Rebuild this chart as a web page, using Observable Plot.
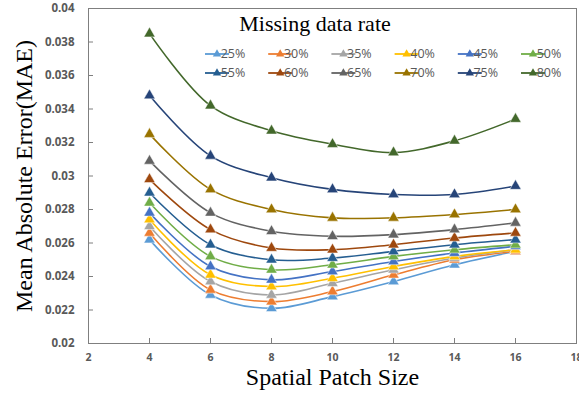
<!DOCTYPE html>
<html>
<head>
<meta charset="utf-8">
<script src="https://cdn.jsdelivr.net/npm/d3@7"></script>
<script src="https://cdn.jsdelivr.net/npm/@observablehq/plot@0.6"></script>
<style>
  html, body { margin: 0; padding: 0; background: #fff; }
  #chart { width: 579px; height: 403px; }
</style>
</head>
<body>
<div id="chart"></div>
<script>
const patchSizes = [4, 6, 8, 10, 12, 14, 16];
const rates = ["25%", "30%", "35%", "40%", "45%", "50%", "55%", "60%", "65%", "70%", "75%", "80%"];
const colors = ["#5B9BD5", "#ED7D31", "#A5A5A5", "#FFC000", "#4472C4", "#70AD47",
                "#255E91", "#9E480E", "#636363", "#997300", "#264478", "#43682B"];
const mae25 = [0.0262, 0.0229, 0.0221, 0.0228, 0.0237, 0.0247, 0.0255];
const mae30 = [0.0266, 0.0232, 0.0225, 0.0231, 0.0241, 0.0250, 0.0255];
const mae35 = [0.0270, 0.0237, 0.0229, 0.0236, 0.0244, 0.0251, 0.0256];
const mae40 = [0.0274, 0.0241, 0.0234, 0.0239, 0.0246, 0.0252, 0.0256];
const mae45 = [0.0278, 0.0246, 0.0238, 0.0243, 0.0249, 0.0254, 0.0258];
const mae50 = [0.0284, 0.0252, 0.0244, 0.0247, 0.0252, 0.0256, 0.0259];
const mae55 = [0.0290, 0.0259, 0.0250, 0.0251, 0.0255, 0.0259, 0.0262];
const mae60 = [0.0298, 0.0268, 0.0257, 0.0256, 0.0259, 0.0263, 0.0266];
const mae65 = [0.0309, 0.0278, 0.0267, 0.0264, 0.0265, 0.0268, 0.0272];
const mae70 = [0.0325, 0.0292, 0.0280, 0.0275, 0.0275, 0.0277, 0.0280];
const mae75 = [0.0348, 0.0312, 0.0299, 0.0292, 0.0289, 0.0289, 0.0294];
const mae80 = [0.0385, 0.0342, 0.0327, 0.0319, 0.0314, 0.0321, 0.0334];
const series = [mae25, mae30, mae35, mae40, mae45, mae50, mae55, mae60, mae65, mae70, mae75, mae80];
const xTicks = [2, 4, 6, 8, 10, 12, 14, 16, 18];
const yTicks = [0.02, 0.022, 0.024, 0.026, 0.028, 0.03, 0.032, 0.034, 0.036, 0.038, 0.04];
const legendTitle = "Missing data rate";
const xLabel = "Spatial Patch Size";
const yLabel = "Mean Absolute Error(MAE)";

const rows = [];
series.forEach((vals, i) => vals.forEach((v, j) => rows.push({rate: rates[i], x: patchSizes[j], y: v})));

const W = 579, H = 403, mL = 88, mR = 3, mT = 8, mB = 60;
const pw = W - mL - mR, ph = H - mT - mB;
const tickFont = {fontFamily: "Open Sans, Liberation Sans, sans-serif", fontWeight: "bold", fill: "#595959"};
const serif = "Liberation Serif, Times New Roman, serif";

const chart = Plot.plot({
  width: W, height: H,
  marginLeft: mL, marginRight: mR, marginTop: mT, marginBottom: mB,
  x: {domain: [2, 18], ticks: xTicks, axis: null},
  y: {domain: [0.02, 0.04], ticks: yTicks, axis: null},
  color: {domain: rates, range: colors},
  style: {background: "#fff", overflow: "visible"},
  marks: [
    Plot.frame({stroke: "#7f7f7f", strokeWidth: 1}),
    Plot.tickY(yTicks, {y: d => d, stroke: "#7f7f7f", insetRight: pw - 5}),
    Plot.tickX(xTicks, {x: d => d, stroke: "#7f7f7f", insetTop: ph - 5}),
    Plot.text(yTicks, {y: d => d, frameAnchor: "left", dx: -14, text: d => String(+d.toFixed(3)), textAnchor: "end",
      fontSize: 11.5, ...tickFont}),
    Plot.text(xTicks, {x: d => d, frameAnchor: "bottom", dy: 17, text: d => String(d), textAnchor: "middle",
      fontSize: 10.5, ...tickFont}),
    Plot.line(rows, {x: "x", y: "y", z: "rate", stroke: "rate", strokeWidth: 1.6, curve: "catmull-rom"}),
    Plot.dot(rows, {x: "x", y: "y", fill: "rate", symbol: "triangle", r: 4.2, stroke: "#fff", strokeWidth: 0.5}),
    Plot.text([yLabel], {frameAnchor: "left", dx: -64, rotate: -90, textAnchor: "middle", fontFamily: serif,
      fontSize: 24, fill: "#000"}),
    Plot.text([xLabel], {frameAnchor: "bottom", dy: 41, textAnchor: "middle", fontFamily: serif,
      fontSize: 24, fill: "#000"})
  ]
});

document.getElementById("chart").appendChild(chart);

// Legend overlay
const svg = d3.select(chart);
const lg = svg.append("g");
lg.append("text").attr("x", 315).attr("y", 31).attr("text-anchor", "middle")
  .attr("font-family", serif).attr("font-size", 22).attr("fill", "#000")
  .text(legendTitle);
rates.forEach((r, i) => {
  const col = i % 6, row = Math.floor(i / 6);
  const x0 = 205 + col * 63.2, y0 = 54 + row * 19;
  const g = lg.append("g");
  g.append("line").attr("x1", x0).attr("x2", x0 + 24).attr("y1", y0).attr("y2", y0)
    .attr("stroke", colors[i]).attr("stroke-width", 1.8);
  g.append("path").attr("d", d3.symbol(d3.symbolTriangle, 30)()).attr("transform", `translate(${x0 + 12},${y0})`)
    .attr("fill", colors[i]);
  g.append("text").attr("x", x0 + 28).attr("y", y0).attr("dy", "0.35em")
    .attr("font-family", "Open Sans, Liberation Sans, sans-serif").attr("font-size", 12.5).attr("fill", "#595959")
    .text(r);
});
</script>
</body>
</html>
